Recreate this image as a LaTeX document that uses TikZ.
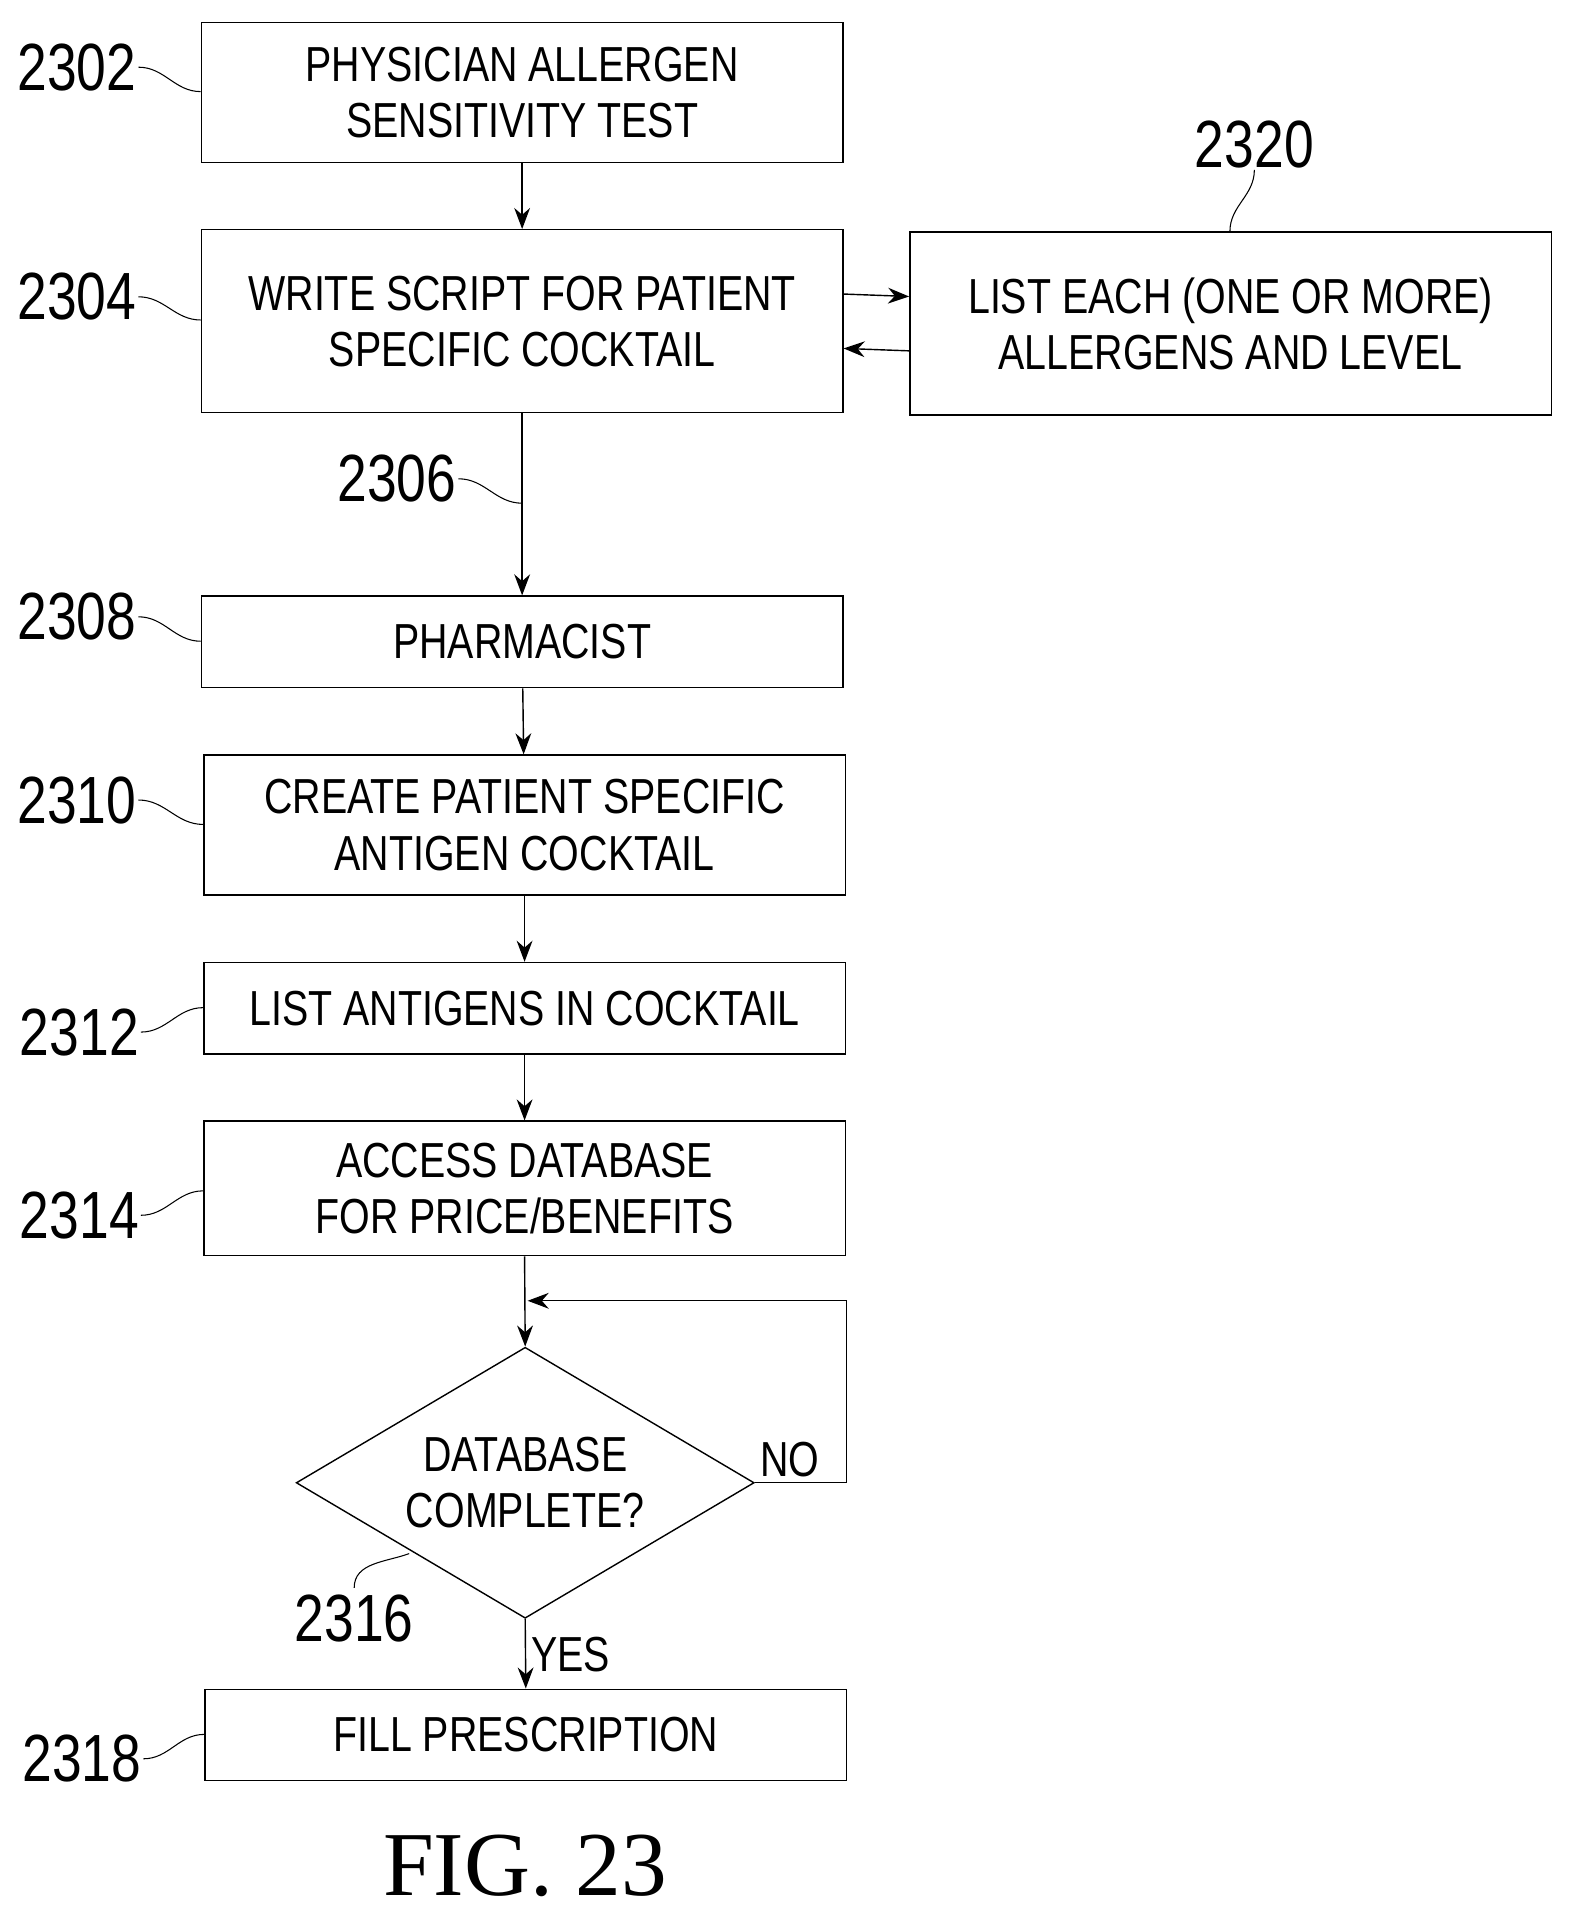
\documentclass[tikz,border=0pt]{standalone}
\usepackage{fontspec}
\setmainfont{Liberation Sans}[FakeStretch=0.8]
\newfontfamily\figfont{Liberation Serif}
\usetikzlibrary{shapes.geometric,arrows.meta,positioning}
\tikzset{
  stage/.style={draw,thick,minimum width=12.83cm,align=center,font=\fontsize{28}{32}\selectfont,inner sep=0pt},
  ref/.style={font=\fontsize{38}{40}\selectfont,inner sep=1pt},
  flow/.style={thick,-{Stealth[length=12pt,width=9pt]}},
  lead/.style={semithick}
}
\begin{document}
\begin{tikzpicture}[x=0.02443cm,y=-0.02443cm]
\useasboundingbox (0,0) rectangle (1300,1581);

% the boxes
\node[stage,minimum height=2.8cm] (test) at (427.5,75.5) {PHYSICIAN ALLERGEN\\SENSITIVITY TEST};
\node[stage,minimum height=3.66cm] (script) at (427.5,263) {WRITE SCRIPT FOR PATIENT\\SPECIFIC COCKTAIL};
\node[stage,minimum height=3.66cm] (list) at (1007.5,265) {LIST EACH (ONE OR MORE)\\ALLERGENS AND LEVEL};
\node[stage,minimum height=1.83cm] (pharm) at (427.5,525.5) {PHARMACIST};
\node[stage,minimum height=2.8cm] (create) at (429.5,675.5) {CREATE PATIENT SPECIFIC\\ANTIGEN COCKTAIL};
\node[stage,minimum height=1.83cm] (antig) at (429.5,825.5) {LIST ANTIGENS IN COCKTAIL};
\node[stage,minimum height=2.69cm] (access) at (429.5,973) {ACCESS DATABASE\\FOR PRICE/BENEFITS};
\node[draw,thick,diamond,shape aspect=1.69,minimum width=9.16cm,minimum height=5.42cm,inner sep=0pt,align=center,
  font=\fontsize{28}{32}\selectfont] (check) at (430,1214) {DATABASE\\COMPLETE?};
\node[stage,minimum height=1.83cm] (fill) at (430.5,1420.5) {FILL PRESCRIPTION};

% the connectors
\draw[flow] (test) -- (script);
\draw[flow] (script.south) -- (pharm.north);
\draw[flow] (pharm) -- (create);
\draw[flow] (create) -- (antig);
\draw[flow] (antig) -- (access);
\draw[flow] (access.south) -- (check.north);
\draw[flow] (check.south) -- (fill.north);
\draw[flow] ([yshift=-37pt]script.north east) -- ([yshift=-37pt]list.north west);
\draw[flow] ([yshift=37pt]list.south west) -- ([yshift=37pt]script.south east);
\coordinate (loopr) at (693,1214);
\coordinate (loopt) at (693,1065);
\coordinate (loope) at (432,1065);
\draw[flow] (check.east) -- (loopr) -- (loopt) -- (loope);
\node[font=\fontsize{28}{32}\selectfont,anchor=south west,inner sep=3pt] at (check.east) {NO};
\node[font=\fontsize{28}{32}\selectfont,anchor=west] at ([yshift=-20pt]check.south) {YES};

% reference numerals
\node[ref] (n2302) at (63,55) {2302};
\node[ref] (n2304) at (63,243) {2304};
\node[ref] (n2306) at (325,392) {2306};
\node[ref] (n2308) at (63,505) {2308};
\node[ref] (n2310) at (63,655) {2310};
\node[ref] (n2312) at (65,845) {2312};
\node[ref] (n2314) at (65,995) {2314};
\node[ref] (n2316) at (290,1325) {2316};
\node[ref] (n2318) at (67,1440) {2318};
\node[ref] (n2320) at (1027,118) {2320};
\draw[lead] (n2302.east) to[out=0,in=180] (test.west|-0,75);
\draw[lead] (n2304.east) to[out=0,in=180] (script.west|-0,262);
\draw[lead] (n2306.east) to[out=0,in=180] (script.south|-0,412);
\draw[lead] (n2308.east) to[out=0,in=180] (pharm.west|-0,525);
\draw[lead] (n2310.east) to[out=0,in=180] (create.west|-0,675);
\draw[lead] (n2312.east) to[out=0,in=180] (antig.west|-0,825);
\draw[lead] (n2314.east) to[out=0,in=180] (access.west|-0,975);
\draw[lead] (n2318.east) to[out=0,in=180] (fill.west|-0,1420);
\draw[lead] (n2320.south) to[out=-90,in=90] (list.north-|1007,0);
\draw[lead] (290,1300) to[out=90,in=200] (335,1272);

\node[font=\figfont\fontsize{52}{56}\selectfont] (fig) at (430,1528) {FIG. 23};
\end{tikzpicture}
\end{document}
